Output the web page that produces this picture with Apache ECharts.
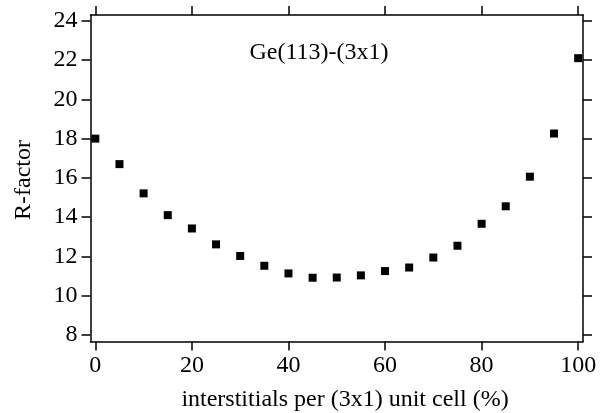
<!DOCTYPE html>
<html>
<head>
<meta charset="utf-8">
<script src="https://cdn.jsdelivr.net/npm/echarts@6/dist/echarts.min.js"></script>
<style>html,body{margin:0;padding:0;background:#fff}#c{width:608px;height:413px}</style>
</head>
<body>
<div id="c"></div>
<script>
const xValues = [0, 5, 10, 15, 20, 25, 30, 35, 40, 45, 50, 55, 60, 65, 70, 75, 80, 85, 90, 95, 100];
const rFactor = [18.0, 16.7, 15.21, 14.1, 13.42, 12.61, 12.02, 11.52, 11.13, 10.91, 10.92, 11.03, 11.25, 11.43, 11.94, 12.54, 13.66, 14.55, 16.06, 18.26, 22.1];
const xTicks = [0, 20, 40, 60, 80, 100];
const yTicks = [8, 10, 12, 14, 16, 18, 20, 22, 24];
const titleText = 'Ge(113)-(3x1)';
const xName = 'interstitials per (3x1) unit cell (%)';
const yName = 'R-factor';

const FONT = 'Liberation Serif';
const FS = 24;
const lineStyle = {color: '#000', width: 1.5};
const chart = echarts.init(document.getElementById('c'), null, {renderer: 'canvas'});
const points = xValues.map((x, i) => [x, rFactor[i]]);

function xAxis(pos, labels) {
  return {
    type: 'value', position: pos, min: -1, max: 101,
    axisLine: {show: true, onZero: false, lineStyle},
    axisTick: {show: true, inside: false, length: 9, customValues: xTicks, lineStyle},
    axisLabel: {show: labels, customValues: xTicks, margin: 12, color: '#000', fontFamily: FONT, fontSize: FS},
    splitLine: {show: false}
  };
}
function yAxis(pos, labels) {
  return {
    type: 'value', position: pos, min: 7.66, max: 24.3,
    axisLine: {show: true, onZero: false, lineStyle},
    axisTick: {show: true, inside: false, length: 9, customValues: yTicks, lineStyle},
    axisLabel: {show: labels, customValues: yTicks, margin: 13, color: '#000', fontFamily: FONT, fontSize: FS},
    splitLine: {show: false}
  };
}

chart.setOption({
  animation: false,
  backgroundColor: '#fff',
  grid: {left: 90.5, right: 25, top: 15, bottom: 71.5, containLabel: false},
  title: [
    {text: titleText, left: 314, top: 36, textAlign: 'center',
     textStyle: {fontFamily: FONT, fontSize: FS, fontWeight: 'normal', color: '#000'}},
    {text: xName, left: 340, top: 383, textAlign: 'center',
     textStyle: {fontFamily: FONT, fontSize: FS, fontWeight: 'normal', color: '#000'}}
  ],
  graphic: [{
    type: 'text', x: 24, y: 180, rotation: Math.PI / 2,
    style: {text: yName, fontFamily: FONT, fontSize: FS, fill: '#000', align: 'center', verticalAlign: 'middle'}
  }],
  xAxis: [xAxis('bottom', true), xAxis('top', false)],
  yAxis: [yAxis('left', true), yAxis('right', false)],
  series: [{
    type: 'scatter', xAxisIndex: 0, yAxisIndex: 0,
    data: points, symbol: 'rect', symbolSize: 8,
    itemStyle: {color: '#000', opacity: 1}
  }]
});
</script>
</body>
</html>
